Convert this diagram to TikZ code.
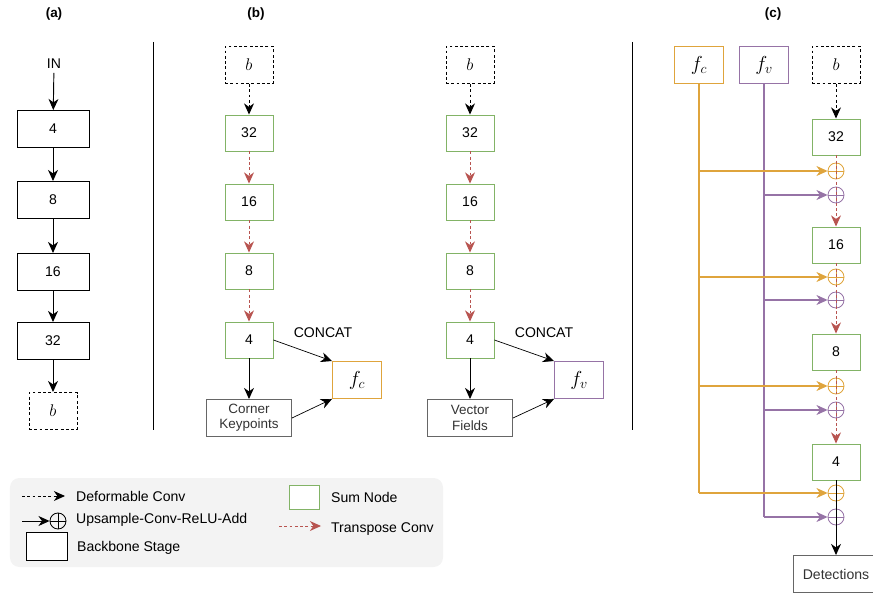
\documentclass[tikz,border=0pt]{standalone}
\usepackage{fontspec}
\setmainfont{Liberation Sans}
\usetikzlibrary{positioning}
\usetikzlibrary{arrows.meta}
\definecolor{sumgreen}{HTML}{82B366}
\definecolor{fcorange}{HTML}{DFA43C}
\definecolor{fvpurple}{HTML}{9673A6}
\definecolor{tconvred}{HTML}{B85450}
\definecolor{boxgray}{HTML}{666666}
\definecolor{legendgray}{HTML}{F3F3F3}
\tikzset{
    stage/.style={draw=black, line width=0.8pt, minimum width=2.16cm, minimum height=1.11cm, inner sep=0pt},
    sumbox/.style={draw=sumgreen, line width=0.8pt, minimum width=1.44cm, minimum height=1.08cm, inner sep=0pt},
    basebox/.style={draw=black, line width=0.8pt, dash pattern=on 2.5pt off 2pt, minimum width=1.44cm, minimum height=1.11cm, inner sep=0pt, font=\fontsize{14.4}{16}\selectfont},
    headbox/.style={draw=boxgray, line width=0.8pt, minimum width=2.55cm, minimum height=1.11cm, inner sep=0pt, align=center, text=black!80, font=\fontsize{11.5}{13}\selectfont},
    featbox/.style={draw=#1, line width=0.8pt, minimum width=1.47cm, minimum height=1.11cm, inner sep=0pt, font=\fontsize{17.28}{19}\selectfont},
    sumnode/.style={circle, draw=#1, line width=0.7pt, minimum size=0.48cm, inner sep=0pt,
        path picture={\draw[#1, line width=0.7pt] (path picture bounding box.north) -- (path picture bounding box.south)
            (path picture bounding box.west) -- (path picture bounding box.east);}},
    title/.style={font=\bfseries\fontsize{11.5}{13}\selectfont},
    tip/.style={-{Stealth[length=9.5pt,width=8.5pt,inset=3pt]}},
    conn/.style={tip, line width=0.8pt},
    defconv/.style={tip, line width=0.8pt, dash pattern=on 2.5pt off 2pt},
    tconv/.style={tip, line width=0.8pt, draw=tconvred, dash pattern=on 2.5pt off 2pt},
    feedline/.style={line width=0.9pt, draw=#1}
}

\begin{document}
\begin{tikzpicture}[x=0.03cm, y=-0.03cm, font=\fontsize{12}{14}\selectfont]
    \useasboundingbox (0,0) rectangle (873,594);
    % titles
    \node[title] (ta) at (54,14) {(a)};
    \node[title] (tb) at (256,14) {(b)};
    \node[title] (tc) at (773,14) {(c)};
    \draw[line width=0.8pt] (153,42) -- (153,430);
    \draw[line width=0.8pt] (632,42) -- (632,430);

    % (a) backbone
    \node (in) at (54,64) {IN};
    \node[stage] (a4) at (53,129) {4};
    \node[stage] (a8) at (53,200) {8};
    \node[stage] (a16) at (53,272) {16};
    \node[stage] (a32) at (53,341) {32};
    \node[basebox] (ab) at (53,411) {$b$};
    \draw[conn] (in) -- (a4);
    \draw[conn] (a4) -- (a8);
    \draw[conn] (a8) -- (a16);
    \draw[conn] (a16) -- (a32);
    \draw[conn] (a32) -- (ab);

    % (b) corner head
    \node[basebox] (cb) at (249,65) {$b$};
    \node[sumbox] (c32) at (249,133) {32};
    \node[sumbox] (c16) at (249,202) {16};
    \node[sumbox] (c8) at (249,271) {8};
    \node[sumbox] (c4) at (249,340) {4};
    \node[headbox] (ck) at (249,418) {Corner\\Keypoints};
    \node[featbox=fcorange] (fcb) at (357,380) {$f_c$};
    \node (cat1) at (323,333) {CONCAT};
    \draw[defconv] (cb) -- (c32);
    \draw[tconv] (c32) -- (c16);
    \draw[tconv] (c16) -- (c8);
    \draw[tconv] (c8) -- (c4);
    \draw[conn] (c4) -- (ck);
    \draw[tip, line width=0.6pt] (c4.east) -- (fcb.north west);
    \draw[tip, line width=0.6pt] (ck.east) -- (fcb.south west);

    % (b) vector head
    \node[basebox] (vb) at (470,65) {$b$};
    \node[sumbox] (v32) at (470,133) {32};
    \node[sumbox] (v16) at (470,202) {16};
    \node[sumbox] (v8) at (470,271) {8};
    \node[sumbox] (v4) at (470,340) {4};
    \node[headbox] (vf) at (470,418) {Vector\\Fields};
    \node[featbox=fvpurple] (fvb) at (579,380) {$f_v$};
    \node (cat2) at (544,333) {CONCAT};
    \draw[defconv] (vb) -- (v32);
    \draw[tconv] (v32) -- (v16);
    \draw[tconv] (v16) -- (v8);
    \draw[tconv] (v8) -- (v4);
    \draw[conn] (v4) -- (vf);
    \draw[tip, line width=0.6pt] (v4.east) -- (fvb.north west);
    \draw[tip, line width=0.6pt] (vf.east) -- (fvb.south west);

    % (c) fused decoder
    \node[featbox=fcorange] (fc) at (699,65) {$f_c$};
    \node[featbox=fvpurple] (fv) at (764,65) {$f_v$};
    \node[basebox] (db) at (836,65) {$b$};
    \node[sumbox] (d32) at (836,137) {32};
    \node[sumbox] (d16) at (836,245) {16};
    \node[sumbox] (d8) at (836,352) {8};
    \node[sumbox] (d4) at (836,462) {4};
    \node[draw=boxgray, line width=0.8pt, minimum width=2.58cm, minimum height=1.11cm, inner sep=0pt, text=black!80] (det) at (836,574) {Detections};
    \node[sumnode=fcorange] (o1) at (836,171) {};
    \node[sumnode=fvpurple] (p1) at (836,195) {};
    \node[sumnode=fcorange] (o2) at (836,277) {};
    \node[sumnode=fvpurple] (p2) at (836,300) {};
    \node[sumnode=fcorange] (o3) at (836,386) {};
    \node[sumnode=fvpurple] (p3) at (836,410) {};
    \node[sumnode=fcorange] (o4) at (836,493) {};
    \node[sumnode=fvpurple] (p4) at (836,517) {};
    \draw[feedline=fcorange] (fc.south) -- (fc.south |- o4);
    \draw[feedline=fvpurple] (fv.south) -- (fv.south |- p4);
    \foreach \i in {1,...,4} {
        \draw[feedline=fcorange, tip] (fc.south |- o\i) -- (o\i);
        \draw[feedline=fvpurple, tip] (fv.south |- p\i) -- (p\i);
    }
    \draw[defconv] (db) -- (d32);
    \draw[tconv] (d32) -- (d16);
    \draw[tconv] (d16) -- (d8);
    \draw[tconv] (d8) -- (d4);
    \draw[conn] (d4) -- (det);

    % legend
    \node[fill=legendgray, rounded corners=8pt, minimum width=12.99cm, minimum height=2.67cm] (leg) at (226.5,522.5) {};
    \coordinate (l1a) at (22,496);
    \coordinate (l1b) at (65,496);
    \draw[defconv] (l1a) -- (l1b);
    \node[anchor=west] (l1t) at (72,496) {Deformable Conv};
    \coordinate (l2a) at (22,521);
    \node[sumnode=black] (lsum) at (58,521) {};
    \draw[conn] (l2a) -- (lsum);
    \node[anchor=west] (l2t) at (72,520) {Upsample-Conv-ReLU-Add};
    \node[draw=black, line width=0.8pt, fill=white, minimum width=1.23cm, minimum height=0.84cm] (l3b) at (46.5,546) {};
    \node[anchor=west] (l3t) at (73,548) {Backbone Stage};
    \node[draw=sumgreen, line width=0.8pt, fill=white, minimum width=0.9cm, minimum height=0.72cm] (l4b) at (304,497) {};
    \node[anchor=west] (l4t) at (327,497) {Sum Node};
    \coordinate (l5a) at (279,526);
    \coordinate (l5b) at (321,526);
    \draw[tconv] (l5a) -- (l5b);
    \node[anchor=west] (l5t) at (327,529) {Transpose Conv};
\end{tikzpicture}
\end{document}
